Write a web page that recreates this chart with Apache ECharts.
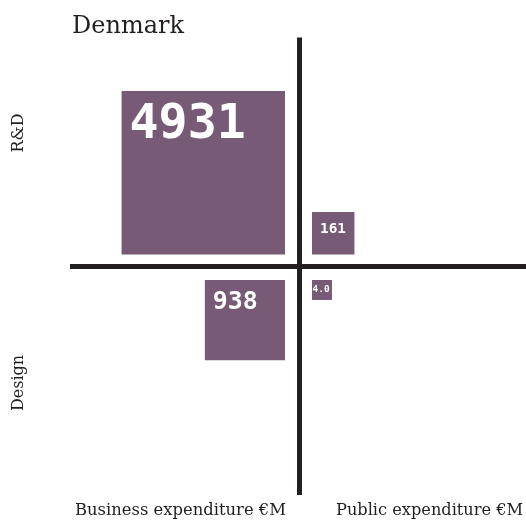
<!DOCTYPE html>
<html>
<head>
<meta charset="utf-8">
<script src="https://cdn.jsdelivr.net/npm/echarts@6/dist/echarts.min.js"></script>
<style>
html,body{margin:0;padding:0;background:#fff;}
#chart{width:526px;height:521px;}
</style>
</head>
<body>
<div id="chart"></div>
<script>
const titleText = 'Denmark';
const xCategories = ['Business expenditure €M', 'Public expenditure €M'];
const yCategories = ['R&D', 'Design'];
const rdValues = [4931, 161];
const designValues = [938, 4.0];

const squareColor = '#775b76';
const inkColor = '#231f20';

const data = []
  .concat(rdValues.map((v, i) => [i, 0, v]))
  .concat(designValues.map((v, i) => [i, 1, v]));

function sideOf(v) { return 2.103 * Math.sqrt(v) + 15.75; }

const chart = echarts.init(document.getElementById('chart'), null, {renderer: 'canvas'});

const option = {
  animation: false,
  backgroundColor: '#fff',
  title: {
    text: titleText,
    left: 67, top: 10,
    textStyle: {fontFamily: 'DejaVu Serif', fontSize: 24, fontWeight: 'normal', color: inkColor}
  },
  grid: {left: 0, right: 0, top: 0, bottom: 0, containLabel: false},
  xAxis: {type: 'value', min: -299, max: 227, show: false},
  yAxis: {type: 'value', min: -254.5, max: 266.5, show: false},
  graphic: [
    {type: 'text', x: 75, y: 511, style: {text: xCategories[0], fontFamily: 'DejaVu Serif', fontSize: 16.4, fill: inkColor, align: 'left', verticalAlign: 'middle'}},
    {type: 'text', x: 336, y: 511, style: {text: xCategories[1], fontFamily: 'DejaVu Serif', fontSize: 16.2, fill: inkColor, align: 'left', verticalAlign: 'middle'}},
    {type: 'text', x: 19, y: 133, rotation: Math.PI / 2, style: {text: yCategories[0], fontFamily: 'DejaVu Serif', fontSize: 16, fill: inkColor, align: 'center', verticalAlign: 'middle'}},
    {type: 'text', x: 19, y: 383, rotation: Math.PI / 2, style: {text: yCategories[1], fontFamily: 'DejaVu Serif', fontSize: 16, fill: inkColor, align: 'center', verticalAlign: 'middle'}}
  ],
  series: [{
    type: 'custom',
    data: data,
    encode: {x: 0, y: 1},
    renderItem: function (params, api) {
      const col = api.value(0), row = api.value(1), v = api.value(2);
      const side = sideOf(v);
      const gapX = col === 0 ? 14 : 13;
      const gapY = row === 0 ? 12 : 13.5;
      const left = col === 0 ? -gapX - side : gapX;
      const top = row === 0 ? gapY + side : -gapY;
      const p = api.coord([left, top]);
      const s = api.size([side, side]);
      const fs = Math.max(9.5, 0.28 * side + 2.5);
      const padX = Math.max(0.5, Math.min(8, (side - 19) * 0.35));
      const padY = Math.min(10, side * 0.23);
      const txt = v < 10 ? v.toFixed(1) : String(v);
      return {
        type: 'group',
        children: [
          {type: 'rect', shape: {x: p[0], y: p[1], width: s[0], height: s[1]}, style: {fill: squareColor}},
          {type: 'text', x: p[0] + padX, y: p[1] + padY,
           style: {text: txt, fill: '#ffffff', fontFamily: 'DejaVu Sans Mono', fontWeight: 'bold', fontSize: fs, align: 'left', verticalAlign: 'top'}}
        ]
      };
    },
    markLine: {
      silent: true,
      symbol: 'none',
      label: {show: false},
      lineStyle: {color: inkColor, width: 5, type: 'solid'},
      data: [
        [{coord: [-229, 0]}, {coord: [227, 0]}],
        [{coord: [0, 229]}, {coord: [0, -228.5]}]
      ]
    }
  }]
};
chart.setOption(option);
</script>
</body>
</html>
